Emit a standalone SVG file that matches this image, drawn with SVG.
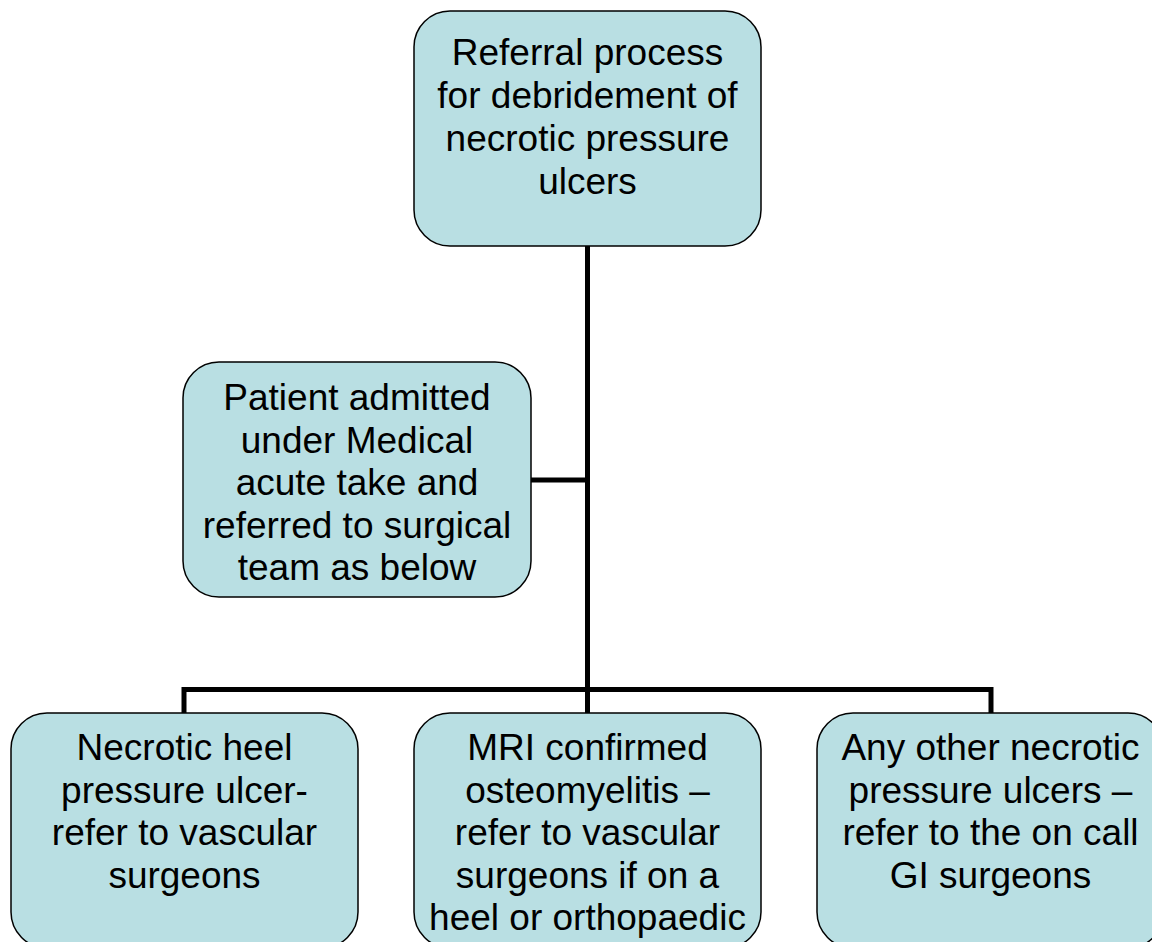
<svg xmlns="http://www.w3.org/2000/svg" width="1152" height="942" viewBox="0 0 1152 942">
<style>
.box{fill:#B9DFE3;stroke:#000;stroke-width:1.5}
.t{font-family:"Liberation Sans",Arial,sans-serif;font-size:37px;fill:#000;text-anchor:middle}
.c{stroke:#000;stroke-width:5;fill:none}
</style>
<rect width="1152" height="942" fill="#fff"/>
<g id="connectors">
<path class="c" d="M587.5 246 V690"/>
<path class="c" d="M531 480 H587.5"/>
<path class="c" d="M184 713 V689.5 H991 V713"/>
<path class="c" d="M587.5 689 V713"/>
</g>
<g id="top">
<rect class="box" x="414" y="11" width="347" height="235" rx="36"/>
<text class="t"><tspan x="587.5" y="65">Referral process</tspan><tspan x="587.5" y="108">for debridement of</tspan><tspan x="587.5" y="151">necrotic pressure</tspan><tspan x="587.5" y="194">ulcers</tspan></text>
</g>
<g id="patient">
<rect class="box" x="183" y="362" width="348" height="235" rx="36"/>
<text class="t"><tspan x="357" y="410">Patient admitted</tspan><tspan x="357" y="452.5">under Medical</tspan><tspan x="357" y="495">acute take and</tspan><tspan x="357" y="537.5">referred to surgical</tspan><tspan x="357" y="580">team as below</tspan></text>
</g>
<g id="heel">
<rect class="box" x="11" y="713" width="347" height="235" rx="36"/>
<text class="t"><tspan x="184.5" y="760">Necrotic heel</tspan><tspan x="184.5" y="802.5">pressure ulcer-</tspan><tspan x="184.5" y="845">refer to vascular</tspan><tspan x="184.5" y="887.5">surgeons</tspan></text>
</g>
<g id="mri">
<rect class="box" x="414" y="713" width="347" height="235" rx="36"/>
<text class="t"><tspan x="587.5" y="760">MRI confirmed</tspan><tspan x="587.5" y="802.5">osteomyelitis –</tspan><tspan x="587.5" y="845">refer to vascular</tspan><tspan x="587.5" y="887.5">surgeons if on a</tspan><tspan x="587.5" y="930">heel or orthopaedic</tspan></text>
</g>
<g id="other">
<rect class="box" x="817" y="713" width="347" height="235" rx="36"/>
<text class="t"><tspan x="990.5" y="760">Any other necrotic</tspan><tspan x="990.5" y="802.5">pressure ulcers –</tspan><tspan x="990.5" y="845">refer to the on call</tspan><tspan x="990.5" y="887.5">GI surgeons</tspan></text>
</g>
</svg>
